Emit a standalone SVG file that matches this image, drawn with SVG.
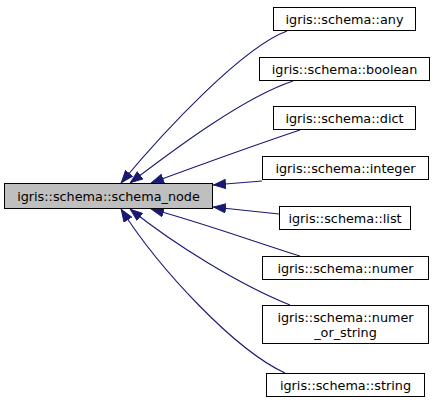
<svg xmlns="http://www.w3.org/2000/svg" width="435" height="408" viewBox="0 0 435 408">
<style>
.n rect{fill:#ffffff;stroke:#000000;stroke-width:1}
.m rect{fill:#bfbfbf;stroke:#000000;stroke-width:1}
text{font-family:"DejaVu Sans",sans-serif;font-size:12.8px;fill:#000000;text-anchor:middle}
.e path{fill:none;stroke:#191970;stroke-width:1.1;marker-end:url(#ah)}
</style>
<defs>
<marker id="ah" markerUnits="userSpaceOnUse" viewBox="0 0 13 10" refX="13" refY="5" markerWidth="13" markerHeight="10" orient="auto">
<path d="M0.5,0.5 L12.5,5 L0.5,9.5 z" fill="#191970" stroke="#191970"/>
</marker>
</defs>
<g class="e" id="edges">
<path d="M287,31 C243,47 165,130 121,183"/>
<path d="M293,81 C245,97 180,145 130,183"/>
<path d="M300,130 C255,145 200,165 151,183"/>
<path d="M262,181 L213,185"/>
<path d="M279,214 L213,207"/>
<path d="M300,256 C255,242 200,222 151,209"/>
<path d="M290,305 C240,285 175,245 130,209"/>
<path d="M285,373 C235,350 160,270 121,209"/>
</g>
<g class="m" id="schema_node"><rect x="4.5" y="183.5" width="208" height="25"/><text x="108.5" y="200.5">igris::schema::schema_node</text></g>
<g class="n" id="any"><rect x="273.5" y="7.5" width="142" height="23"/><text x="344.5" y="23.5">igris::schema::any</text></g>
<g class="n" id="boolean"><rect x="259.5" y="57.5" width="170" height="23"/><text x="344.5" y="73.5">igris::schema::boolean</text></g>
<g class="n" id="dict"><rect x="273.5" y="106.5" width="142" height="23"/><text x="344.5" y="122.5">igris::schema::dict</text></g>
<g class="n" id="integer"><rect x="262.5" y="156.5" width="166" height="23"/><text x="345.5" y="172.5">igris::schema::integer</text></g>
<g class="n" id="list"><rect x="279.5" y="206.5" width="131" height="23"/><text x="345" y="222.5">igris::schema::list</text></g>
<g class="n" id="numer"><rect x="262.5" y="256.5" width="166" height="23"/><text x="345.5" y="272.5">igris::schema::numer</text></g>
<g class="n" id="numer_or_string"><rect x="262.5" y="305.5" width="166" height="38"/><text x="345.5" y="321.5">igris::schema::numer</text><text x="345.5" y="336.5">_or_string</text></g>
<g class="n" id="string"><rect x="266.5" y="373.5" width="158" height="23"/><text x="345.5" y="389.5">igris::schema::string</text></g>
</svg>
